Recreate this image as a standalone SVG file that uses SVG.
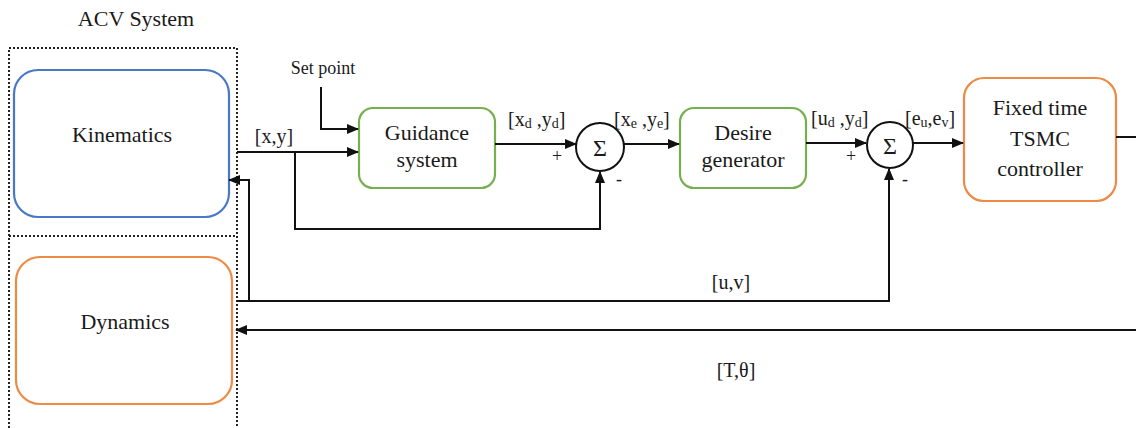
<svg xmlns="http://www.w3.org/2000/svg" width="1136" height="428" viewBox="0 0 1136 428" font-family="'Liberation Serif', 'DejaVu Serif', serif">
  <style>
    text { font-family: "Liberation Serif", "DejaVu Serif", serif; fill: #1a1a1a; }
    .box { fill: #ffffff; stroke-width: 2.2; }
    .blue { stroke: #4a78c8; }
    .orange { stroke: #ed8a45; }
    .green { stroke: #76b04e; }
    .big { font-size: 22px; text-anchor: middle; }
    .lbl { font-size: 20px; text-anchor: middle; }
    .sub { font-size: 14px; }
    .wire { fill: none; stroke: #111111; stroke-width: 2; }
    .sum { fill: #ffffff; stroke: #111111; stroke-width: 2; }
  </style>
  <defs>
    <marker id="arrow" markerUnits="userSpaceOnUse" markerWidth="12" markerHeight="10" refX="11" refY="5" orient="auto">
      <path d="M0,0 L12,5 L0,10 z" fill="#111111"/>
    </marker>
  </defs>

  <!-- ACV system container -->
  <g id="acv-system">
    <text x="136" y="26" font-size="22" text-anchor="middle">ACV System</text>
    <rect x="9" y="48" width="228" height="400" fill="none" stroke="#222222" stroke-width="2" stroke-dasharray="2,2"/>
    <line x1="9" y1="236" x2="237" y2="236" stroke="#222222" stroke-width="2" stroke-dasharray="2,2"/>
  </g>

  <g id="kinematics">
    <rect class="box blue" x="14" y="70" width="215" height="147" rx="24"/>
    <text class="big" x="122" y="142" font-size="23">Kinematics</text>
  </g>

  <g id="dynamics">
    <rect class="box orange" x="16" y="257" width="216" height="147" rx="24"/>
    <text class="big" x="125" y="329" font-size="23">Dynamics</text>
  </g>

  <g id="guidance">
    <rect class="box green" x="359" y="108" width="136" height="80" rx="14"/>
    <text class="big" x="427" y="140">Guidance</text>
    <text class="big" x="427" y="167">system</text>
  </g>

  <g id="sum1">
    <circle class="sum" cx="600" cy="147" r="24"/>
    <text x="600" y="156" font-size="24" text-anchor="middle">Σ</text>
  </g>

  <g id="desire">
    <rect class="box green" x="680" y="108" width="126" height="80" rx="14"/>
    <text class="big" x="743" y="140">Desire</text>
    <text class="big" x="743" y="167">generator</text>
  </g>

  <g id="sum2">
    <circle class="sum" cx="890" cy="145" r="23"/>
    <text x="890" y="154" font-size="24" text-anchor="middle">Σ</text>
  </g>

  <g id="tsmc">
    <rect class="box orange" x="964" y="78" width="152" height="123" rx="20"/>
    <text class="big" x="1040" y="115" font-size="24">Fixed time</text>
    <text class="big" x="1040" y="146" font-size="24">TSMC</text>
    <text class="big" x="1040" y="176" font-size="24">controller</text>
  </g>

  <!-- signal paths -->
  <g id="connectors">
    <path class="wire" d="M237,152 H358" marker-end="url(#arrow)"/>
    <path class="wire" d="M295,152 V229 H600 V172" marker-end="url(#arrow)"/>
    <path class="wire" d="M321,87 V129 H358" marker-end="url(#arrow)"/>
    <path class="wire" d="M495,144 H576" marker-end="url(#arrow)"/>
    <path class="wire" d="M624,144 H679" marker-end="url(#arrow)"/>
    <path class="wire" d="M806,143 H866" marker-end="url(#arrow)"/>
    <path class="wire" d="M913,143 H963" marker-end="url(#arrow)"/>
    <path class="wire" d="M1116,137 H1136"/>
    <path class="wire" d="M237,301 H889 V169" marker-end="url(#arrow)"/>
    <path class="wire" d="M249,301 V180 H229" marker-end="url(#arrow)"/>
    <path class="wire" d="M1136,330 H236" marker-end="url(#arrow)"/>
  </g>

  <!-- signal labels -->
  <g id="labels">
    <text x="323" y="74" font-size="18" text-anchor="middle">Set point</text>
    <text class="lbl" x="274" y="143">[x,y]</text>
    <text x="508" y="126" font-size="20">[x<tspan class="sub" dy="2">d</tspan><tspan dy="-2"> ,y</tspan><tspan class="sub" dy="2">d</tspan><tspan dy="-2">]</tspan></text>
    <text x="614" y="126" font-size="20">[x<tspan class="sub" dy="2">e</tspan><tspan dy="-2"> ,y</tspan><tspan class="sub" dy="2">e</tspan><tspan dy="-2">]</tspan></text>
    <text x="811" y="125" font-size="20">[u<tspan class="sub" dy="2">d</tspan><tspan dy="-2"> ,y</tspan><tspan class="sub" dy="2">d</tspan><tspan dy="-2">]</tspan></text>
    <text x="905" y="125" font-size="20">[e<tspan class="sub" dy="2">u</tspan><tspan dy="-2">,e</tspan><tspan class="sub" dy="2">v</tspan><tspan dy="-2">]</tspan></text>
    <text x="557" y="162" font-size="18" text-anchor="middle">+</text>
    <text x="619" y="185" font-size="18" text-anchor="middle">-</text>
    <text x="851" y="162" font-size="18" text-anchor="middle">+</text>
    <text x="905" y="185" font-size="18" text-anchor="middle">-</text>
    <text class="lbl" x="731" y="289">[u,v]</text>
    <text class="lbl" x="736" y="377">[T,θ]</text>
  </g>
</svg>
